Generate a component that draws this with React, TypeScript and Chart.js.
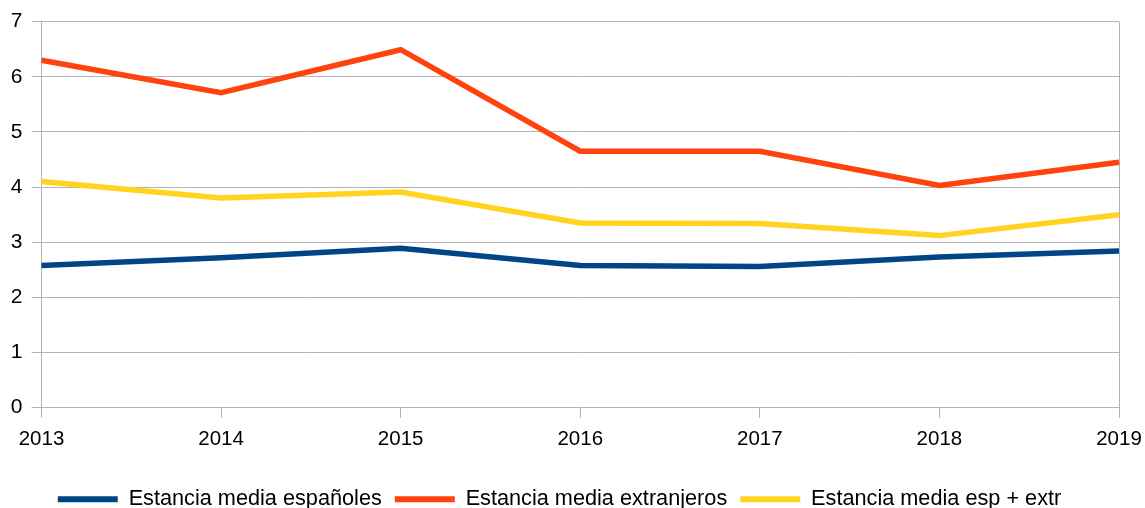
import React, { useEffect, useRef } from "react";
import { Chart, registerables } from "chart.js";

Chart.register(...registerables);

const years = ["2013", "2014", "2015", "2016", "2017", "2018", "2019"];
const espanoles = [2.58, 2.72, 2.89, 2.58, 2.56, 2.73, 2.84];
const extranjeros = [6.3, 5.71, 6.49, 4.65, 4.65, 4.03, 4.45];
const espExtr = [4.1, 3.8, 3.91, 3.35, 3.34, 3.12, 3.5];
const seriesNames = [
  "Estancia media españoles",
  "Estancia media extranjeros",
  "Estancia media esp + extr",
];
const seriesColors = ["#004586", "#ff420e", "#ffd320"];
const yTicks = [0, 1, 2, 3, 4, 5, 6, 7];

const GRID = "#b3b3b3";
const FONT = "'Liberation Sans', Arial, sans-serif";

export default function App() {
  const ref = useRef<HTMLCanvasElement | null>(null);

  useEffect(() => {
    document.body.style.margin = "0";
    const ctx = ref.current!.getContext("2d")!;
    const values = [espanoles, extranjeros, espExtr];
    const chart = new Chart(ctx, {
      type: "line",
      data: {
        labels: years,
        datasets: values.map((v, i) => ({
          label: seriesNames[i],
          data: v,
          borderColor: seriesColors[i],
          backgroundColor: seriesColors[i],
          borderWidth: 5.5,
          pointRadius: 0,
          tension: 0,
          fill: false,
        })),
      },
      options: {
        animation: false,
        responsive: true,
        maintainAspectRatio: false,
        layout: { padding: { left: 0, right: 26, top: 20, bottom: -12 } },
        plugins: {
          tooltip: { enabled: false },
          legend: {
            position: "bottom",
            labels: {
              color: "#000",
              font: { family: FONT, size: 21.7 },
              boxWidth: 60,
              boxHeight: 6,
              padding: 13,
              generateLabels: (c: any) =>
                c.data.datasets.map((d: any, i: number) => ({
                  text: d.label,
                  fillStyle: d.borderColor,
                  strokeStyle: d.borderColor,
                  lineWidth: 0,
                  hidden: false,
                  datasetIndex: i,
                })),
            },
          },
        },
        scales: {
          x: {
            type: "category",
            offset: false,
            afterFit: (axis: any) => {
              axis.height += 15;
              axis.paddingRight = 0;
              axis.paddingLeft = 0;
            },
            grid: {
              color: (c: any) =>
                c.index === years.length - 1 ? GRID : "transparent",
              tickColor: GRID,
              tickLength: 10,
              drawOnChartArea: true,
            },
            border: { color: GRID },
            ticks: {
              color: "#000",
              font: { family: FONT, size: 20.5 },
              padding: 9,
              maxRotation: 0,
              autoSkip: false,
            },
          },
          y: {
            min: 0,
            max: 7,
            afterBuildTicks: (axis: any) => {
              axis.ticks = yTicks.map((v) => ({ value: v }));
            },
            afterFit: (axis: any) => {
              axis.width = 41.5;
            },
            grid: { color: GRID, tickColor: GRID, tickLength: 10 },
            border: { color: GRID },
            ticks: {
              color: "#000",
              font: { family: FONT, size: 21 },
              padding: 9,
            },
          },
        },
      },
    });
    return () => chart.destroy();
  }, []);

  return (
    <div
      style={{
        position: "fixed",
        left: 0,
        top: 0,
        width: 1145,
        height: 508,
        background: "#fff",
      }}
    >
      <canvas ref={ref} />
    </div>
  );
}
